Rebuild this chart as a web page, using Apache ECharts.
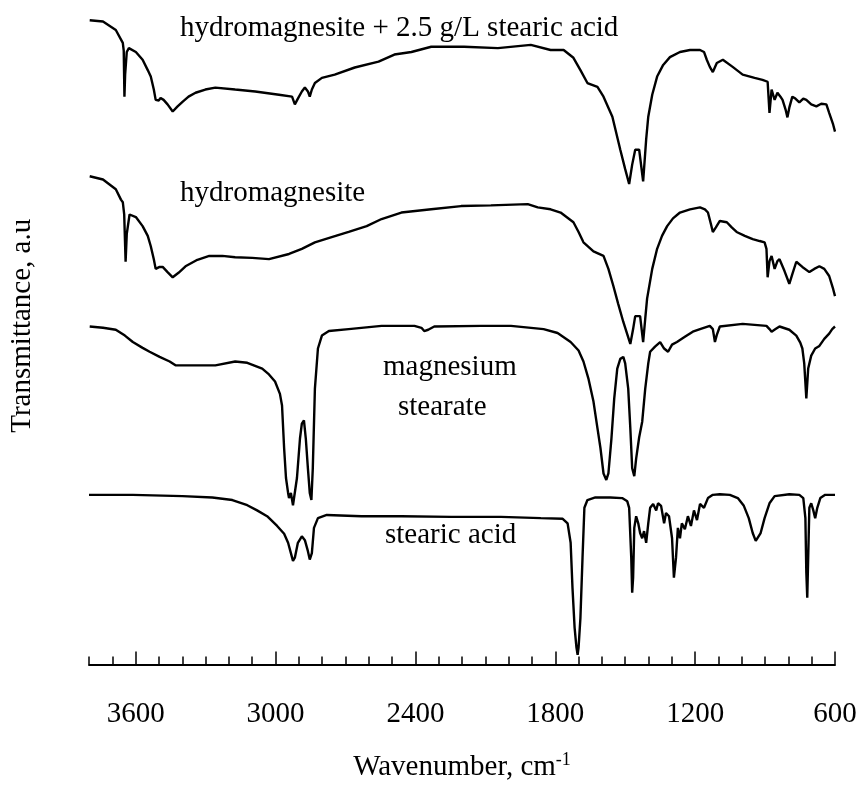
<!DOCTYPE html>
<html>
<head>
<meta charset="utf-8">
<script src="https://cdn.jsdelivr.net/npm/echarts@6/dist/echarts.min.js"></script>
<style>
  html, body { margin: 0; padding: 0; background: #fff; }
  #chart { width: 861px; height: 787px; }
</style>
</head>
<body>
<div id="chart"></div>
<script>
// FTIR spectra, stacked with vertical offsets (transmittance in arbitrary units)
// Each point: [wavenumber (cm-1), transmittance (a.u.)]

const hmStearic = [
  [3797,99.5],[3740,99.3],[3685,98.0],[3655,96.0],[3651,94.8],[3648,87.7],[3645,91.1],[3638,94.6],[3629,95.2],
  [3599,94.6],[3570,93.4],[3548,91.8],[3535,90.8],[3522,88.8],[3514,87.2],[3501,87.1],[3493,87.5],[3480,87.2],
  [3463,86.5],[3441,85.4],[3420,86.2],[3399,86.9],[3373,87.7],[3343,88.3],[3301,88.8],[3258,89.1],[3173,88.8],
  [3087,88.5],[2985,88.0],[2929,87.7],[2917,86.5],[2904,87.4],[2887,88.5],[2874,89.1],[2861,88.5],[2853,87.7],
  [2844,88.8],[2831,89.8],[2801,90.6],[2746,91.1],[2660,92.2],[2558,93.1],[2490,94.2],[2417,94.6],[2332,95.4],
  [2191,95.4],[2046,95.2],[1905,95.7],[1820,94.9],[1764,94.9],[1722,93.7],[1692,91.8],[1662,89.8],[1619,89.2],
  [1593,87.7],[1555,84.6],[1521,79.5],[1500,76.5],[1483,74.2],[1470,77.2],[1457,79.5],[1440,79.5],[1423,74.6],
  [1410,81.1],[1401,84.6],[1384,88.0],[1363,90.8],[1337,92.6],[1308,93.8],[1265,94.6],[1222,94.9],[1179,94.9],
  [1162,94.6],[1150,93.4],[1137,92.3],[1124,91.5],[1107,92.9],[1081,93.4],[1039,92.3],[996,91.1],[945,90.6],
  [911,90.3],[889,90.0],[881,85.2],[872,88.8],[859,87.2],[847,88.3],[834,87.7],[825,87.2],[812,85.7],[804,84.5],
  [796,86.0],[783,87.7],[770,87.4],[753,86.8],[736,87.4],[723,87.2],[702,86.5],[680,86.2],[659,86.6],[637,86.5],
  [625,85.2],[608,83.4],[600,82.3]
];

const hydromagnesite = [
  [3797,75.4],[3740,74.9],[3685,73.4],[3663,71.8],[3655,71.4],[3649,69.5],[3643,62.2],[3638,66.5],[3626,69.5],
  [3599,69.1],[3570,67.7],[3548,66.2],[3535,64.6],[3522,62.6],[3514,61.1],[3497,61.4],[3484,61.4],[3463,60.6],
  [3441,59.8],[3416,60.5],[3386,61.5],[3335,62.5],[3284,63.1],[3228,63.1],[3173,62.9],[3100,62.8],[3028,62.6],
  [2942,63.4],[2887,64.2],[2831,65.2],[2759,66.0],[2686,66.8],[2609,67.7],[2545,68.8],[2460,69.8],[2332,70.3],
  [2204,70.8],[2076,70.9],[1918,71.1],[1875,70.6],[1820,70.3],[1777,69.8],[1722,68.3],[1700,66.8],[1679,65.2],
  [1636,63.8],[1593,63.1],[1572,61.1],[1551,58.5],[1530,55.7],[1508,52.9],[1478,49.5],[1466,51.8],[1457,53.8],
  [1436,53.8],[1423,49.8],[1414,53.4],[1406,56.5],[1384,61.1],[1363,64.2],[1342,66.2],[1320,67.7],[1295,68.9],
  [1265,69.8],[1222,70.3],[1179,70.6],[1158,70.3],[1145,69.8],[1132,68.0],[1124,66.8],[1111,67.5],[1094,68.5],
  [1064,68.3],[1043,67.5],[1022,66.8],[987,66.2],[953,65.7],[923,65.4],[902,65.2],[894,64.2],[889,59.8],
  [881,62.3],[872,63.1],[859,61.1],[847,62.3],[838,62.6],[817,60.8],[796,58.8],[783,60.3],[766,62.2],[740,61.4],
  [710,60.6],[689,61.1],[667,61.5],[646,61.1],[625,60.0],[608,58.0],[600,56.9]
];

const magnesiumStearate = [
  [3797,52.2],[3740,52.0],[3685,51.7],[3646,50.8],[3612,49.8],[3570,48.9],[3540,48.3],[3497,47.5],[3454,46.8],
  [3429,46.2],[3356,46.2],[3258,46.2],[3173,46.8],[3121,46.6],[3057,45.7],[3028,44.8],[3002,43.7],[2981,41.8],
  [2972,40.0],[2963,33.4],[2955,28.8],[2946,26.5],[2942,25.7],[2934,26.5],[2925,24.6],[2917,24.9],[2908,28.8],
  [2895,34.9],[2887,37.2],[2878,37.7],[2870,34.9],[2861,30.3],[2853,26.5],[2846,25.4],[2840,30.3],[2831,42.6],
  [2818,48.8],[2801,50.8],[2771,51.5],[2686,51.8],[2545,52.3],[2404,52.3],[2374,52.0],[2362,51.5],[2345,51.7],
  [2319,52.2],[2118,52.3],[1990,52.3],[1850,51.8],[1790,51.2],[1734,49.8],[1700,48.5],[1679,46.8],[1658,44.2],
  [1636,40.6],[1619,36.5],[1606,33.4],[1593,29.5],[1581,28.5],[1572,29.5],[1559,34.9],[1547,41.1],[1534,45.7],
  [1521,47.2],[1508,47.5],[1500,46.5],[1487,42.6],[1478,36.5],[1470,30.3],[1461,29.1],[1453,31.8],[1440,35.1],
  [1427,37.5],[1414,42.6],[1401,46.5],[1393,48.3],[1372,49.1],[1350,49.8],[1333,48.8],[1316,48.3],[1299,49.4],
  [1278,49.8],[1244,50.6],[1210,51.4],[1179,51.8],[1137,52.3],[1124,51.8],[1115,49.8],[1107,50.9],[1094,52.2],
  [996,52.6],[894,52.3],[881,51.8],[872,51.4],[855,51.8],[838,52.2],[796,51.7],[766,50.8],[749,49.7],[740,48.8],
  [732,46.5],[723,41.1],[715,45.7],[702,47.7],[685,48.8],[667,49.2],[646,50.3],[625,51.1],[612,51.8],[600,52.2]
];

const stearicAcid = [
  [3800,26.2],[3612,26.2],[3399,26.0],[3271,25.8],[3185,25.4],[3121,24.6],[3079,23.8],[3036,22.9],[2993,21.4],
  [2963,20.2],[2946,18.8],[2934,17.2],[2925,16.0],[2917,16.5],[2904,18.8],[2887,19.8],[2874,19.2],[2861,17.5],
  [2853,16.2],[2844,17.2],[2835,21.1],[2818,22.6],[2780,23.1],[2631,22.9],[2460,22.9],[2247,22.8],[2033,22.8],
  [1862,22.6],[1768,22.5],[1747,21.8],[1734,18.8],[1726,11.8],[1717,5.7],[1709,2.6],[1704,1.5],[1700,2.6],
  [1692,7.2],[1683,16.5],[1675,24.2],[1662,25.4],[1628,25.8],[1564,25.8],[1513,25.7],[1491,25.2],[1483,24.2],
  [1474,16.5],[1470,11.1],[1466,13.4],[1461,21.1],[1453,22.9],[1444,21.8],[1436,20.3],[1427,19.5],[1419,20.6],
  [1410,18.8],[1401,21.8],[1393,24.2],[1380,24.8],[1367,23.8],[1359,24.9],[1346,24.5],[1333,21.8],[1325,23.4],
  [1312,22.9],[1299,19.5],[1291,13.4],[1282,16.5],[1274,21.1],[1265,19.5],[1257,21.8],[1244,20.9],[1231,22.9],
  [1218,21.4],[1205,23.8],[1192,22.3],[1179,24.8],[1162,24.2],[1145,25.7],[1124,26.2],[1094,26.3],[1051,26.2],
  [1017,25.7],[991,24.5],[970,22.6],[953,20.3],[940,19.1],[932,18.8],[919,20.3],[902,22.6],[881,24.9],[859,26.0],
  [796,26.3],[753,26.2],[736,25.7],[727,22.6],[723,14.2],[719,10.3],[715,16.5],[710,24.2],[702,24.9],[693,23.8],
  [685,22.6],[676,24.2],[663,25.7],[642,26.2],[600,26.2]
];

const majorTicks = [600, 1200, 1800, 2400, 3000, 3600];

const serif = "'Liberation Serif', 'Times New Roman', serif";
const textSize = 29;

const chart = echarts.init(document.getElementById('chart'), null, { renderer: 'canvas' });

function spectrum(name, data) {
  return {
    name: name,
    type: 'line',
    data: data,
    showSymbol: false,
    symbol: 'none',
    lineStyle: { color: '#000', width: 2.4 },
    xAxisIndex: 0,
    yAxisIndex: 0,
    animation: false
  };
}

function annotation(text, left, top) {
  return { type: 'text', left: left, top: top,
           style: { text: text, fill: '#000', font: textSize + 'px ' + serif } };
}

chart.setOption({
  backgroundColor: '#fff',
  animation: false,
  grid: { left: 86, right: 26, top: 17, bottom: 120, containLabel: false },
  xAxis: [
    {
      // minor ticks every 100 cm-1, carries the axis line
      type: 'value', min: 600, max: 3800, interval: 100, inverse: true,
      position: 'bottom',
      axisLine: { show: true, lineStyle: { color: '#000', width: 2 } },
      axisTick: { show: true, inside: true, length: 8, lineStyle: { color: '#000', width: 1.5 } },
      axisLabel: { show: false },
      splitLine: { show: false }
    },
    {
      // major ticks and labels every 600 cm-1
      type: 'value', min: 600, max: 3800, interval: 600, inverse: true,
      position: 'bottom',
      axisLine: { show: false },
      axisTick: { show: true, inside: true, length: 13, customValues: majorTicks,
                  lineStyle: { color: '#000', width: 1.5 } },
      axisLabel: {
        show: true, customValues: majorTicks, margin: 35,
        formatter: function (v) { return String(v); },
        color: '#000', fontFamily: serif, fontSize: textSize
      },
      splitLine: { show: false },
      name: 'Wavenumber, cm{sup|-1}',
      nameLocation: 'middle',
      nameGap: 87,
      nameTextStyle: {
        color: '#000', fontFamily: serif, fontSize: textSize,
        rich: { sup: { fontFamily: serif, fontSize: 18, color: '#000', verticalAlign: 'top', padding: [0, 0, 14, 0] } }
      }
    }
  ],
  yAxis: {
    type: 'value', min: 0, max: 100,
    axisLine: { show: false }, axisTick: { show: false }, axisLabel: { show: false },
    splitLine: { show: false },
    name: 'Transmittance, a.u',
    nameLocation: 'middle',
    nameGap: 52,
    nameTextStyle: { color: '#000', fontFamily: serif, fontSize: textSize, padding: [0, 0, 0, 30] }
  },
  graphic: [
    annotation('hydromagnesite + 2.5 g/L stearic acid', 180, 14),
    annotation('hydromagnesite', 180, 179),
    annotation('magnesium', 383, 353),
    annotation('stearate', 398, 393),
    annotation('stearic acid', 385, 521)
  ],
  series: [
    spectrum('hydromagnesite + 2.5 g/L stearic acid', hmStearic),
    spectrum('hydromagnesite', hydromagnesite),
    spectrum('magnesium stearate', magnesiumStearate),
    spectrum('stearic acid', stearicAcid)
  ]
});
</script>
</body>
</html>
